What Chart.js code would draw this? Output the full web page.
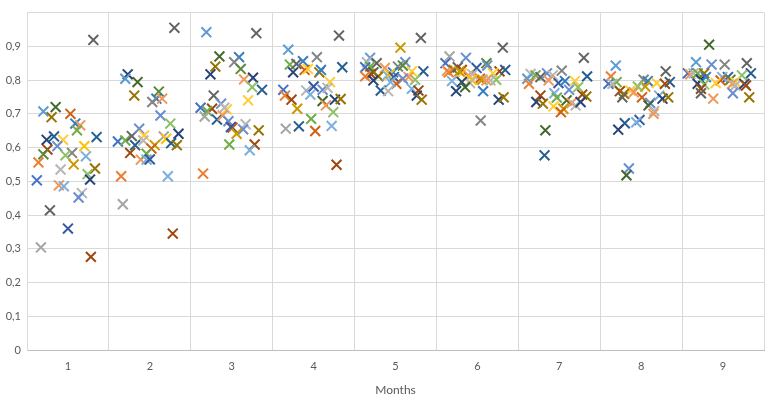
<!DOCTYPE html>
<html>
<head>
<meta charset="utf-8">
<script src="https://cdn.jsdelivr.net/npm/chart.js@4"></script>
<style>
  body { margin: 0; background: #fff; }
</style>
</head>
<body>
<canvas id="chart" width="769" height="405"></canvas>
<script>
// Excel default series colours
const palette = [
  '#5B9BD5', '#ED7D31', '#A5A5A5', '#FFC000', '#4472C4', '#70AD47',
  '#255E91', '#9E480E', '#636363', '#997300', '#264478', '#43682B',
  '#7CAFDD', '#F1975A', '#B7B7B7', '#FFCD33', '#698ED0', '#8CC168',
  '#327DC2', '#D26012', '#848484', '#CC9A00', '#335AA1', '#5A8A39'
];

const months = [1, 2, 3, 4, 5, 6, 7, 8, 9];
const yTicks = [0, 0.1, 0.2, 0.3, 0.4, 0.5, 0.6, 0.7, 0.8, 0.9, 1];

// [x, y, series colour]
const month1 = [[1.31,0.919,8],[0.70,0.707,0],[0.85,0.720,11],[0.80,0.690,9],[1.03,0.700,19],[1.09,0.671,18],[1.15,0.666,13],[1.11,0.651,5],[1.35,0.631,6],[0.74,0.623,10],[0.83,0.633,6],[0.94,0.623,15],[0.75,0.594,7],[0.87,0.604,16],[0.70,0.580,23],[0.64,0.556,1],[1.05,0.584,20],[0.97,0.577,17],[1.20,0.604,3],[1.22,0.574,12],[1.07,0.550,21],[0.91,0.535,14],[1.33,0.538,9],[1.24,0.521,17],[1.27,0.505,10],[0.62,0.503,4],[0.89,0.488,13],[0.95,0.485,12],[1.17,0.465,14],[1.13,0.452,16],[0.78,0.414,8],[1.00,0.360,22],[0.67,0.304,2],[1.28,0.276,7]];
const month2 = [[2.30,0.955,8],[1.73,0.817,10],[1.70,0.804,0],[1.85,0.794,11],[1.81,0.754,9],[2.11,0.766,23],[2.08,0.745,18],[2.03,0.735,20],[2.15,0.745,13],[2.13,0.695,16],[2.25,0.671,17],[2.35,0.641,10],[1.61,0.618,4],[1.70,0.621,5],[1.78,0.634,8],[1.87,0.656,16],[1.93,0.636,15],[1.92,0.621,14],[2.17,0.633,2],[2.20,0.626,3],[2.26,0.613,6],[2.33,0.607,9],[2.06,0.607,21],[2.02,0.597,19],[1.82,0.607,6],[1.76,0.584,7],[1.89,0.564,13],[1.96,0.582,5],[1.96,0.564,12],[2.00,0.565,22],[1.65,0.515,1],[2.22,0.515,12],[1.67,0.432,2],[2.28,0.345,7]];
const month3 = [[2.69,0.942,0],[3.30,0.939,8],[2.85,0.870,11],[3.09,0.868,18],[3.03,0.853,20],[2.80,0.840,9],[3.11,0.833,23],[2.74,0.817,10],[3.15,0.802,13],[3.26,0.807,10],[3.25,0.779,17],[3.37,0.771,6],[3.20,0.740,15],[2.78,0.754,8],[2.62,0.718,4],[2.76,0.715,7],[2.87,0.730,16],[2.94,0.713,15],[2.91,0.718,14],[2.70,0.708,5],[2.67,0.692,2],[2.82,0.683,6],[2.89,0.695,13],[2.96,0.678,16],[3.01,0.659,19],[2.99,0.661,22],[3.17,0.669,14],[3.14,0.654,16],[3.06,0.641,21],[3.33,0.651,9],[3.28,0.609,7],[2.97,0.609,5],[3.22,0.592,12],[2.65,0.523,1]];
const month4 = [[4.31,0.932,8],[3.69,0.890,0],[3.71,0.846,5],[3.79,0.848,8],[3.87,0.856,18],[4.04,0.868,20],[3.75,0.823,10],[3.89,0.830,19],[3.93,0.833,15],[4.07,0.823,9],[4.09,0.830,18],[4.35,0.838,6],[4.20,0.794,15],[3.63,0.771,4],[3.65,0.754,1],[3.91,0.769,14],[4.00,0.781,22],[3.96,0.757,12],[4.11,0.771,16],[4.17,0.777,14],[3.73,0.742,7],[4.11,0.738,11],[4.15,0.725,13],[4.26,0.742,10],[4.33,0.744,9],[3.80,0.715,21],[4.24,0.705,17],[3.97,0.685,5],[3.66,0.656,2],[3.82,0.663,6],[4.02,0.649,19],[4.22,0.664,12],[4.28,0.549,7]];
const month5 = [[5.31,0.925,8],[5.06,0.896,21],[4.69,0.866,0],[4.65,0.853,14],[4.77,0.850,8],[4.69,0.840,5],[4.63,0.838,4],[4.87,0.836,13],[5.12,0.853,16],[5.03,0.840,20],[5.09,0.843,23],[5.20,0.826,15],[5.34,0.826,6],[4.73,0.823,11],[4.70,0.818,7],[4.63,0.811,1],[4.79,0.811,9],[4.73,0.799,10],[4.97,0.823,18],[4.90,0.814,12],[4.93,0.817,3],[4.98,0.809,22],[5.24,0.801,17],[5.16,0.809,13],[5.09,0.804,16],[5.01,0.789,19],[4.94,0.794,12],[5.20,0.774,12],[4.82,0.769,6],[4.91,0.767,14],[5.28,0.769,7],[5.26,0.754,10],[5.32,0.742,9]];
const month6 = [[6.31,0.896,8],[5.66,0.870,2],[5.86,0.866,16],[5.61,0.850,4],[6.11,0.850,23],[6.12,0.843,16],[5.99,0.836,22],[5.63,0.828,13],[5.71,0.830,9],[5.76,0.838,8],[5.81,0.830,7],[5.65,0.823,1],[5.81,0.820,15],[5.78,0.826,21],[6.27,0.826,7],[6.34,0.830,6],[5.89,0.814,13],[5.94,0.817,14],[6.19,0.820,15],[6.03,0.804,19],[6.06,0.801,21],[5.93,0.801,3],[5.69,0.797,12],[6.23,0.801,17],[6.16,0.799,14],[6.11,0.799,13],[5.91,0.791,14],[5.81,0.794,10],[5.85,0.779,11],[5.74,0.767,10],[6.07,0.767,18],[6.26,0.742,10],[6.32,0.749,9],[6.04,0.680,20]];
const month7 = [[7.30,0.866,8],[6.65,0.818,14],[6.71,0.814,5],[6.77,0.809,8],[6.85,0.820,16],[6.92,0.814,14],[7.03,0.828,20],[6.87,0.799,13],[6.61,0.804,0],[6.63,0.789,1],[6.99,0.791,22],[7.07,0.797,18],[7.19,0.797,15],[7.34,0.811,6],[7.12,0.771,16],[7.23,0.779,17],[6.94,0.761,12],[6.77,0.754,7],[6.97,0.748,5],[7.09,0.740,11],[7.28,0.757,7],[7.33,0.751,9],[6.72,0.735,10],[6.80,0.730,9],[7.15,0.732,13],[7.20,0.725,14],[7.26,0.735,10],[6.93,0.722,15],[7.05,0.715,21],[7.02,0.705,19],[6.83,0.651,11],[6.82,0.577,6]];
const month8 = [[7.69,0.843,0],[7.63,0.811,1],[7.60,0.789,4],[7.70,0.794,5],[7.65,0.789,14],[8.30,0.826,8],[8.03,0.801,20],[8.08,0.797,18],[8.19,0.791,15],[8.35,0.794,6],[8.29,0.789,7],[8.05,0.781,21],[7.96,0.781,17],[7.87,0.769,15],[7.74,0.767,7],[7.91,0.764,13],[7.79,0.759,9],[7.77,0.749,8],[8.01,0.749,19],[8.22,0.754,12],[8.26,0.745,10],[8.33,0.749,9],[8.11,0.732,16],[8.09,0.725,11],[8.16,0.708,14],[8.15,0.700,13],[7.98,0.682,22],[7.94,0.675,12],[7.80,0.672,6],[7.72,0.653,10],[7.85,0.538,16],[7.82,0.518,11]];
const month9 = [[8.83,0.905,11],[8.67,0.853,0],[8.86,0.846,16],[9.02,0.846,20],[9.29,0.850,8],[9.34,0.820,6],[8.57,0.820,4],[8.60,0.817,13],[8.64,0.820,14],[8.69,0.820,5],[8.77,0.820,9],[8.73,0.801,10],[8.79,0.809,18],[9.23,0.814,17],[9.06,0.809,22],[8.99,0.809,12],[9.09,0.801,23],[8.97,0.799,19],[8.91,0.791,15],[9.15,0.794,15],[9.11,0.789,13],[9.15,0.784,14],[9.26,0.789,10],[9.28,0.784,7],[8.69,0.789,10],[8.77,0.787,17],[8.73,0.774,7],[8.73,0.761,8],[9.12,0.761,16],[8.88,0.745,13],[9.32,0.749,9]];

const allMonths = [month1, month2, month3, month4, month5, month6, month7, month8, month9];

const datasets = allMonths.map(pts => ({
  data: pts.map(p => ({ x: p[0], y: p[1] })),
  pointStyle: 'crossRot',
  pointRadius: 7,
  pointHoverRadius: 7,
  pointBorderWidth: 2,
  pointHoverBorderWidth: 2,
  pointBorderColor: pts.map(p => palette[p[2]]),
  pointBackgroundColor: pts.map(p => palette[p[2]]),
  showLine: false
}));

const tickFont = { family: 'Lato, "Open Sans", sans-serif', size: 11 };

new Chart(document.getElementById('chart'), {
  type: 'scatter',
  data: { datasets: datasets },
  options: {
    responsive: false,
    animation: false,
    devicePixelRatio: 1,
    // markers would otherwise push the plot area inwards
    layout: { autoPadding: false, padding: { top: 11, right: 5, left: 0, bottom: 0 } },
    plugins: {
      legend: { display: false },
      tooltip: { enabled: false }
    },
    scales: {
      x: {
        type: 'linear',
        min: 0.5,
        max: 9.5,
        afterBuildTicks: s => { s.ticks = months.map(v => ({ value: v })); },
        afterFit: s => { s.height = 55; },
        ticks: {
          color: '#595959',
          font: tickFont,
          padding: 10,
          callback: v => String(v)
        },
        grid: { color: '#D9D9D9', offset: true, drawTicks: false },
        border: { color: '#BFBFBF' },
        title: {
          display: true,
          text: 'Months',
          color: '#595959',
          font: { family: 'Lato, "Open Sans", sans-serif', size: 12 },
          padding: { top: 4, bottom: 8 }
        }
      },
      y: {
        min: 0,
        max: 1,
        afterBuildTicks: s => { s.ticks = yTicks.map(v => ({ value: v })); },
        afterFit: s => { s.width = 27; },
        ticks: {
          color: '#595959',
          font: tickFont,
          padding: 6,
          callback: v => v >= 1 ? '' : String(Math.round(v * 10) / 10).replace('.', ',')
        },
        grid: { color: '#D9D9D9', drawTicks: false },
        border: { color: '#D9D9D9' }
      }
    }
  }
});
</script>
</body>
</html>
